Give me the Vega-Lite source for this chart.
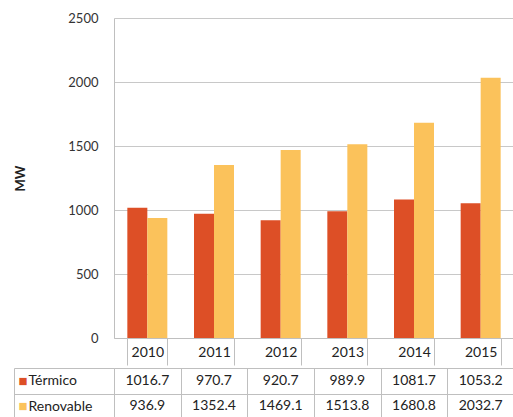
{
  "$schema": "https://vega.github.io/schema/vega-lite/v6.json",
  "padding": {"left": 13, "top": 12, "right": 0, "bottom": 0},
  "background": "white",
  "data": {
    "values": [
      {"year": "2010", "series": "Térmico", "value": 1016.7},
      {"year": "2010", "series": "Renovable", "value": 936.9},
      {"year": "2011", "series": "Térmico", "value": 970.7},
      {"year": "2011", "series": "Renovable", "value": 1352.4},
      {"year": "2012", "series": "Térmico", "value": 920.7},
      {"year": "2012", "series": "Renovable", "value": 1469.1},
      {"year": "2013", "series": "Térmico", "value": 989.9},
      {"year": "2013", "series": "Renovable", "value": 1513.8},
      {"year": "2014", "series": "Térmico", "value": 1081.7},
      {"year": "2014", "series": "Renovable", "value": 1680.8},
      {"year": "2015", "series": "Térmico", "value": 1053.2},
      {"year": "2015", "series": "Renovable", "value": 2032.7}
    ]
  },
  "spacing": -5,
  "vconcat": [
    {
      "width": 400,
      "height": 320,
      "mark": "bar",
      "encoding": {
        "x": {
          "field": "year",
          "type": "ordinal",
          "scale": {"paddingInner": 0.4, "paddingOuter": 0.2},
          "axis": {
            "title": null,
            "labelAngle": 0,
            "tickBand": "extent",
            "tickSize": 27,
            "tickColor": "#bfbfbf",
            "domainColor": "#bfbfbf",
            "labelPadding": -20,
            "labelFontSize": 14,
            "labelColor": "#222",
            "minExtent": 27,
            "maxExtent": 27
          }
        },
        "xOffset": {
          "field": "series",
          "type": "nominal",
          "sort": ["Térmico", "Renovable"],
          "scale": {"paddingInner": 0, "paddingOuter": 0}
        },
        "y": {
          "field": "value",
          "type": "quantitative",
          "scale": {"domain": [0, 2500], "nice": false},
          "axis": {
            "title": "MW",
            "format": "d",
            "values": [0, 500, 1000, 1500, 2000, 2500],
            "ticks": false,
            "labelPadding": 16,
            "titlePadding": 40,
            "titleFontWeight": "bold",
            "titleFontSize": 13,
            "titleColor": "#222",
            "gridColor": "#c8c8c8",
            "domainColor": "#bfbfbf",
            "labelFontSize": 13,
            "labelColor": "#333"
          }
        },
        "color": {
          "field": "series",
          "type": "nominal",
          "sort": ["Térmico", "Renovable"],
          "scale": {"range": ["#dd4f26", "#fbc25b"]},
          "legend": null
        }
      }
    },
    {
      "width": 400,
      "height": 51,
      "encoding": {
        "x": {
          "field": "year",
          "type": "ordinal",
          "scale": {"paddingInner": 0, "paddingOuter": 0},
          "axis": {
            "title": null,
            "grid": true,
            "tickBand": "extent",
            "labels": false,
            "ticks": false,
            "domain": false,
            "gridColor": "#bfbfbf"
          }
        }
      },
      "layer": [
        {
          "mark": {"type": "text", "fontSize": 14, "color": "#222"},
          "encoding": {
            "y": {
              "field": "series",
              "type": "nominal",
              "sort": ["Térmico", "Renovable"],
              "scale": {"paddingInner": 0, "paddingOuter": 0},
              "axis": {
                "title": null,
                "orient": "left",
                "grid": true,
                "gridColor": "#bfbfbf",
                "tickBand": "extent",
                "tickSize": 100,
                "tickColor": "#bfbfbf",
                "domainColor": "#bfbfbf",
                "labelAlign": "left",
                "labelPadding": -14,
                "labelFontSize": 14,
                "labelColor": "#222"
              }
            },
            "text": {"field": "value", "type": "quantitative", "format": ".1f"}
          }
        },
        {
          "mark": {"type": "text", "opacity": 0},
          "encoding": {
            "y": {
              "field": "series",
              "type": "nominal",
              "sort": ["Térmico", "Renovable"],
              "axis": {
                "title": null,
                "orient": "left",
                "offset": 100,
                "grid": false,
                "ticks": false,
                "domainColor": "#bfbfbf",
                "labelExpr": "'■'",
                "labelAlign": "left",
                "labelPadding": -4,
                "labelFontSize": 15,
                "labelColor": {
                  "condition": {"test": "datum.value === 'Térmico'", "value": "#dd4f26"},
                  "value": "#fbc25b"
                }
              }
            },
            "text": {"field": "value", "type": "quantitative"}
          }
        }
      ],
      "resolve": {"axis": {"y": "independent"}}
    }
  ],
  "config": {
    "font": "Lato",
    "view": {"stroke": null},
    "axis": {"labelFont": "Lato", "titleFont": "Lato"}
  }
}
